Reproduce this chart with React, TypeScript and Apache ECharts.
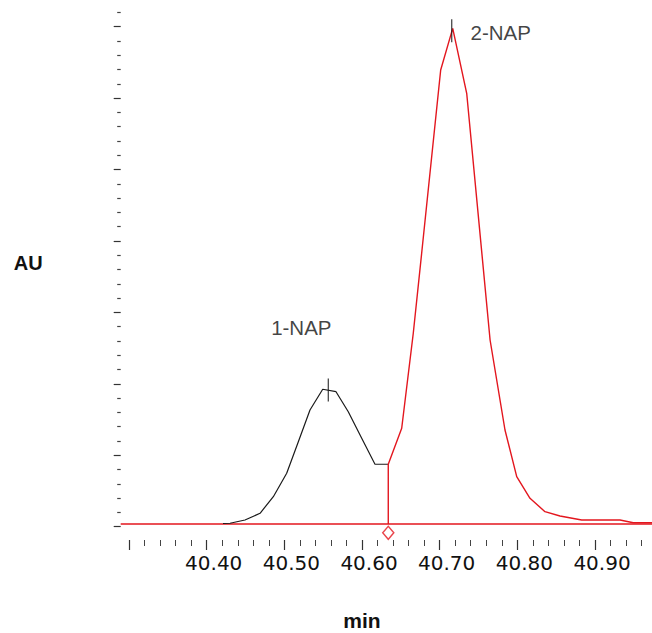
import React, { useEffect, useRef } from "react";
import * as echarts from "echarts";

// Retention time axis range (min) and signal (AU)
const X_MIN = 40.28926;
const X_MAX = 40.9734;
const TICK_MIN = 40.3;
const TICK_MAX = 41.0;
const xTickLabels = [40.4, 40.5, 40.6, 40.7, 40.8, 40.9];

const baselineTimes = [X_MIN, X_MAX];
const baselineSignal = [0.00038, 0.00038];

const peak1Times = [40.421, 40.43, 40.4493, 40.4687, 40.4858, 40.503, 40.518, 40.533, 40.5494, 40.5665, 40.5823, 40.5996, 40.6167, 40.6338];
const peak1Signal = [0.00045, 0.00048, 0.00094, 0.00188, 0.0042, 0.00748, 0.0119, 0.01634, 0.01924, 0.0189, 0.0161, 0.01238, 0.00874, 0.00874];

const peak2Times = [40.6338, 40.6338, 40.6511, 40.666, 40.6768, 40.7013, 40.7168, 40.7348, 40.7649, 40.7841, 40.7992, 40.8163, 40.8356, 40.8549, 40.8829, 40.9322, 40.9493, 40.9734];
const peak2Signal = [0.00038, 0.00874, 0.01378, 0.02708, 0.03828, 0.06394, 0.06977, 0.06068, 0.02614, 0.01354, 0.007, 0.00398, 0.0021, 0.0015, 0.00094, 0.00094, 0.00056, 0.00056];

const peakNames = ["1-NAP", "2-NAP"];
const peakApexTimes = [40.5566, 40.7155];
const peakApexSignal = [0.01914, 0.06944];

const dropTime = 40.6338;
const dropSignal = 0.00038;

const RED = "#e3161e";
const BLACK = "#1a1a1a";

const zip = (a: number[], b: number[]) => a.map((v, i) => [v, b[i]]);

export default function App() {
  const ref = useRef<HTMLDivElement>(null);

  useEffect(() => {
    if (!ref.current) return;
    const chart = echarts.init(ref.current, undefined, { renderer: "svg" });
    const labelOffsets = [
      [-27, -62],
      [49, 2],
    ];
    const option: any = {
      animation: false,
      backgroundColor: "#ffffff",
      grid: [
        { left: 120.7, right: 0, top: -44.7, bottom: 106.3, containLabel: false, outerBoundsMode: "none" },
        { left: 129.04, right: -20.66, top: 500, bottom: 93, containLabel: false, outerBoundsMode: "none" },
      ],
      xAxis: [
        { type: "value", gridIndex: 0, min: X_MIN, max: X_MAX, show: false },
        {
          type: "value",
          gridIndex: 1,
          min: TICK_MIN,
          max: TICK_MAX,
          interval: 0.1,
          position: "bottom",
          axisLine: { show: false },
          splitLine: { show: false },
          axisTick: { show: true, inside: false, length: 10, lineStyle: { color: "#333", width: 1.2 } },
          minorTick: { show: true, splitNumber: 5, length: 6, lineStyle: { color: "#444", width: 1 } },
          axisLabel: {
            show: true,
            margin: 13,
            fontFamily: "DejaVu Sans",
            fontSize: 20,
            color: "#111",
            padding: [0, 0, 0, 14],
            formatter: (v: number) => {
              const hit = xTickLabels.find((t) => Math.abs(t - v) < 1e-6);
              return hit !== undefined ? hit.toFixed(2) : "";
            },
          },
        },
      ],
      yAxis: [
        {
          type: "value",
          gridIndex: 0,
          min: 0,
          max: 0.08,
          interval: 0.01,
          axisLine: { show: false },
          axisLabel: { show: false },
          splitLine: { show: false },
          axisTick: { show: true, inside: false, length: 7, lineStyle: { color: "#333", width: 1.2 } },
          minorTick: { show: true, splitNumber: 5, length: 3.5, lineStyle: { color: "#444", width: 1.2 } },
        },
        { type: "value", gridIndex: 1, show: false },
      ],
      series: [
        {
          name: "Baseline",
          type: "line",
          xAxisIndex: 0,
          yAxisIndex: 0,
          data: zip(baselineTimes, baselineSignal),
          symbol: "none",
          lineStyle: { color: RED, width: 1.4 },
          silent: true,
          z: 2,
        },
        {
          name: "1-NAP",
          type: "line",
          xAxisIndex: 0,
          yAxisIndex: 0,
          data: zip(peak1Times, peak1Signal),
          symbol: "none",
          lineStyle: { color: BLACK, width: 1.2 },
          silent: true,
          z: 3,
        },
        {
          name: "2-NAP",
          type: "line",
          xAxisIndex: 0,
          yAxisIndex: 0,
          data: zip(peak2Times, peak2Signal),
          symbol: "none",
          lineStyle: { color: RED, width: 1.4 },
          silent: true,
          z: 4,
        },
        {
          name: "Peak apex",
          type: "scatter",
          xAxisIndex: 0,
          yAxisIndex: 0,
          symbol: "rect",
          symbolSize: [1.3, 23],
          itemStyle: { color: BLACK },
          silent: true,
          z: 5,
          data: peakNames.map((n, i) => ({
            name: n,
            value: [peakApexTimes[i], peakApexSignal[i]],
            label: { offset: labelOffsets[i] },
          })),
          label: {
            show: true,
            position: "inside",
            formatter: (p: any) => p.name,
            fontFamily: "Liberation Sans",
            fontSize: 20.5,
            color: "#111",
            align: "center",
            verticalAlign: "middle",
          },
        },
        {
          name: "Drop",
          type: "scatter",
          xAxisIndex: 0,
          yAxisIndex: 0,
          symbol: "diamond",
          symbolSize: [11, 13],
          symbolOffset: [0, 8.8],
          clip: false,
          silent: true,
          itemStyle: { color: "#ffffff", borderColor: RED, borderWidth: 1.5 },
          data: [[dropTime, dropSignal]],
          z: 6,
        },
      ],
      graphic: [
        {
          type: "text",
          x: 28.3,
          y: 263,
          style: {
            text: "AU",
            fontFamily: "Liberation Sans",
            fontWeight: "bold",
            fontSize: 20,
            fill: "#111",
            align: "center",
            verticalAlign: "middle",
          },
        },
        {
          type: "text",
          x: 362,
          y: 620.6,
          style: {
            text: "min",
            fontFamily: "Liberation Sans",
            fontWeight: "bold",
            fontSize: 21,
            fill: "#111",
            align: "center",
            verticalAlign: "middle",
          },
        },
      ],
    };
    chart.setOption(option);
    return () => chart.dispose();
  }, []);

  return (
    <div
      ref={ref}
      style={{ position: "fixed", left: 0, top: 0, width: 652, height: 633, background: "#fff" }}
    />
  );
}
